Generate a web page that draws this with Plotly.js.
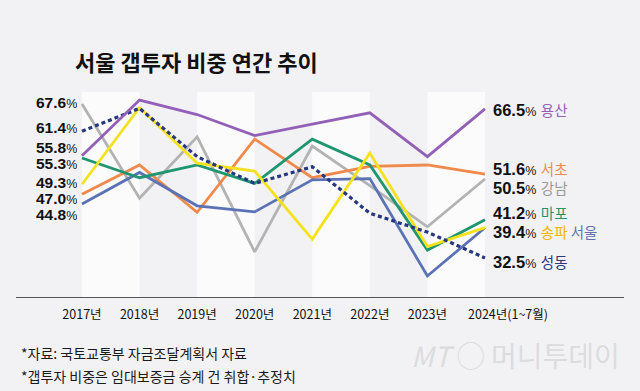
<!DOCTYPE html>
<html><head><meta charset="utf-8">
<script src="https://cdn.plot.ly/plotly-3.0.1.min.js"></script>
<style>html,body{margin:0;padding:0;background:#f2f2f4;} #chart{width:640px;height:391px;}</style>
</head><body><div id="chart"></div>
<script>
// ---- data ----
const years = ['2017년','2018년','2019년','2020년','2021년','2022년','2023년','2024년(1~7월)'];
const yongsan   = [55.8, 68.5, 65.2, 60.4, 63.0, 65.6, 55.6, 66.5];
const seocho    = [47.0, 53.7, 42.9, 59.6, 50.8, 53.4, 53.7, 51.6];
const gangnam   = [67.6, 46.1, 60.1, 33.9, 58.0, 49.0, 39.6, 50.5];
const mapo      = [55.3, 50.8, 53.7, 49.5, 59.6, 53.7, 34.3, 41.2];
const songpa    = [49.3, 66.8, 54.1, 52.3, 36.8, 56.4, 35.1, 39.4];
const seoul     = [44.8, 52.0, 44.4, 43.0, 50.3, 50.6, 28.4, 39.4];
const seongdong = [61.4, 66.6, 55.6, 49.5, 53.3, 42.7, 38.4, 32.5];

const seriesNames = ['강남','서초','서울','마포','송파','성동','용산'];
const seriesData  = [gangnam, seocho, seoul, mapo, songpa, seongdong, yongsan];
const lineColors  = ['#b3b3b3','#f08a4c','#5b73b5','#1f9570','#f6e11e','#27387e','#9360b8'];
const nameColors  = ['#9a9a9a','#f08a4c','#5b73b5','#1f9570','#f0b400','#27387e','#9360b8'];

const titleText = '서울 갭투자 비중 연간 추이';
const notes = ['*자료: 국토교통부 자금조달계획서 자료', '*갭투자 비중은 임대보증금 승계 건 취합·추정치'];

// ---- layout geometry ----
const W = 640, H = 391;
const M = {l: 16, r: 16, t: 92, b: 94};
const plotW = W - M.l - M.r, plotH = H - M.t - M.b;
const xRange = [-1.146, 9.415];
const yRange = [23.6, 70.34];
const px = p => (p - M.l) / plotW;           // pixel x -> paper
const py = p => (H - M.b - p) / plotH;       // pixel y -> paper
const xData = years.map((_, i) => i);

const traces = seriesData.map((d, i) => ({
  x: xData, y: d, name: seriesNames[i], type: 'scatter', mode: 'lines',
  line: {color: lineColors[i], width: seriesNames[i] === '성동' ? 3.2 : 2.8,
         dash: seriesNames[i] === '성동' ? '4px,3px' : 'solid'},
  hoverinfo: 'skip'
}));

const shapes = [];
for (let i = 0; i < years.length - 1; i += 2) {
  shapes.push({type: 'rect', xref: 'x', yref: 'paper', x0: i, x1: i + 1, y0: 0, y1: 1,
               fillcolor: '#fbfbfc', line: {width: 0}, layer: 'below'});
}

const annotations = [];
// title
annotations.push({xref: 'paper', yref: 'paper', x: px(73), y: py(61), xanchor: 'left', yanchor: 'middle',
  text: '<b>' + titleText + '</b>', showarrow: false,
  font: {family: 'Noto Sans CJK KR', size: 22, color: '#111'}});
// footnotes
const noteY = [353, 376];
notes.forEach((t, i) => annotations.push({xref: 'paper', yref: 'paper', x: px(19), y: py(noteY[i]),
  xanchor: 'left', yanchor: 'middle', text: t, showarrow: false,
  font: {family: 'Noto Sans CJK KR', size: 14, color: '#1a1a1a'}}));

function valText(v) {
  return '<b>' + v.toFixed(1) + '</b><span style="font-size:12.5px">%</span>';
}
// left labels (start values), sorted descending
const leftY = [102, 127, 147, 163, 182, 198, 214];
const starts = seriesData.map(d => d[0]).sort((a, b) => b - a);
starts.forEach((v, i) => annotations.push({xref: 'paper', yref: 'paper', x: px(79), y: py(leftY[i]),
  xanchor: 'right', yanchor: 'middle', text: valText(v), showarrow: false, height: 14,
  font: {family: 'Liberation Sans', size: 15.5, color: '#111'}}));

// right labels (end values), grouped by identical values
const groups = [];
seriesData.forEach((d, i) => {
  const v = d[d.length - 1];
  let g = groups.find(g => g.v === v);
  if (!g) { g = {v: v, idx: []}; groups.push(g); }
  g.idx.push(i);
});
groups.sort((a, b) => b.v - a.v);
groups.forEach(g => g.idx.sort((a, b) => (seriesNames[a] === '송파' ? -1 : 0) - (seriesNames[b] === '송파' ? -1 : 0)));
const rightY = [109, 168, 187, 212, 231, 261];
groups.forEach((g, i) => {
  const names = g.idx.map(k => '<span style="color:' + nameColors[k] + '">' + seriesNames[k] + '</span>').join(' ');
  annotations.push({xref: 'paper', yref: 'paper', x: px(491), y: py(rightY[i]),
    xanchor: 'left', yanchor: 'middle', showarrow: false,
    text: valText(g.v) + ' <span style="font-family:Noto Sans CJK KR;font-size:14.5px">' + names + '</span>',
    font: {family: 'Liberation Sans', size: 16.5, color: '#111'}});
});
// watermark
annotations.push({xref: 'paper', yref: 'paper', x: px(622), y: py(355), xanchor: 'right', yanchor: 'middle',
  showarrow: false, text: '<i>MT</i> ◯ 머니투데이',
  font: {family: 'Noto Sans CJK KR', size: 28, color: '#dcdcde'}});

const layout = {
  width: W, height: H, margin: M,
  paper_bgcolor: '#f2f2f4', plot_bgcolor: '#f2f2f4',
  showlegend: false, hovermode: false,
  xaxis: {type: 'linear', range: xRange, showgrid: false, zeroline: false,
          showline: true, linecolor: '#555', linewidth: 1,
          tickvals: [0,1,2,3,4,5,6,7.4], ticktext: years, ticks: '', ticklabelstandoff: 6,
          tickfont: {family: 'Noto Sans CJK KR', size: 12.5, color: '#111'}},
  yaxis: {range: yRange, visible: false, showgrid: false, zeroline: false},
  shapes: shapes, annotations: annotations
};

Plotly.newPlot('chart', traces, layout, {displayModeBar: false, staticPlot: true});
</script>
</body></html>
